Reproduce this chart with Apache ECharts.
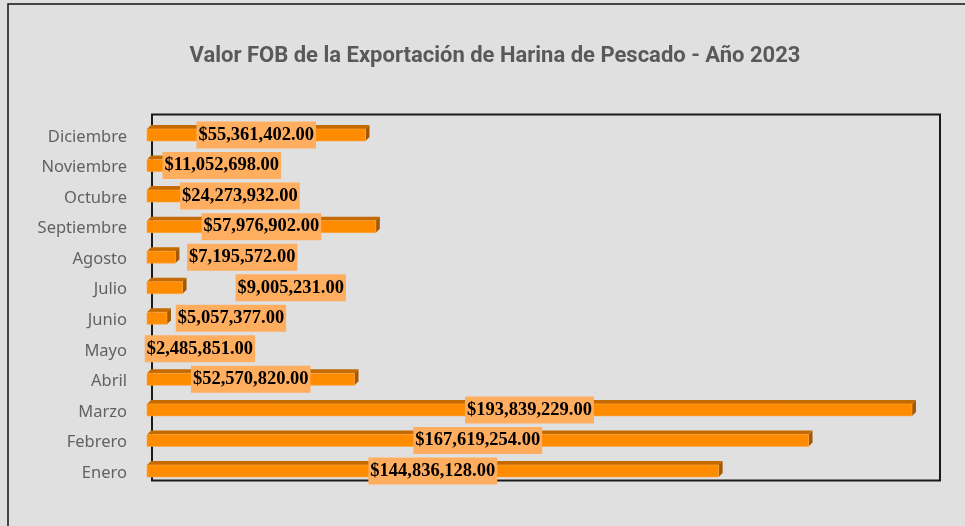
<!DOCTYPE html>
<html>
<head>
<meta charset="utf-8">
<script src="https://cdn.jsdelivr.net/npm/echarts@6/dist/echarts.min.js"></script>
<style>
html,body{margin:0;padding:0;background:#e0e0e0;}
#chart{width:965px;height:526px;}
</style>
</head>
<body>
<div id="chart"></div>
<script>
// ---- data ----
const months = ['Enero','Febrero','Marzo','Abril','Mayo','Junio','Julio','Agosto','Septiembre','Octubre','Noviembre','Diciembre'];
const fobValues = [144836128, 167619254, 193839229, 52570820, 2485851, 5057377, 9005231, 7195572, 57976902, 24273932, 11052698, 55361402];
const titleText = 'Valor FOB de la Exportación de Harina de Pescado - Año 2023';

// ---- layout (label horizontal shifts in px, as placed in the original) ----
const labelShift = [0, 0, 0, 0, 48, 74, 126, 81, 0, 45, 53, 0];

function fmtMoney(v){
  const s = Math.round(v).toString().replace(/\B(?=(\d{3})+(?!\d))/g, ',');
  return '$' + s + '.00';
}

const chart = echarts.init(document.getElementById('chart'), null, {renderer:'canvas'});
const D = 4; // 3D depth

chart.setOption({
  backgroundColor: '#e0e0e0',
  animation: false,
  title: {
    text: titleText,
    left: 490, top: 40, textAlign: 'center',
    textStyle: {fontFamily: 'Roboto, sans-serif', fontWeight: 'bold', fontSize: 22, color: '#595959'}
  },
  grid: {left: 147, right: 28.7, top: 117.75, bottom: 41.75, containLabel: false},
  xAxis: {
    type: 'value', min: 0, max: 200000000,
    axisLine: {show: false}, axisTick: {show: false}, axisLabel: {show: false}, splitLine: {show: false}
  },
  yAxis: {
    type: 'category', data: months,
    axisLine: {show: false}, axisTick: {show: false},
    axisLabel: {
      margin: 20,
      formatter: function(v){ return '{m|' + v + '}'; },
      rich: {m: {color: '#626262', fontSize: 16.5, fontFamily: '"Noto Sans", sans-serif', padding: [8, 0, 0, 0]}}
    }
  },
  graphic: [
    {type: 'rect', silent: true, z: 0, shape: {x: 8, y: 4, width: 970, height: 540}, style: {fill: 'none', stroke: '#111', lineWidth: 1.5}},
    {type: 'rect', silent: true, z: 0, shape: {x: 152, y: 114.5, width: 788, height: 366}, style: {fill: 'none', stroke: '#1a1a1a', lineWidth: 2}}
  ],
  series: [{
    type: 'custom',
    z: 5,
    encode: {x: 0, y: 1},
    data: fobValues.map((v, i) => [v, i]),
    renderItem: function(params, api){
      const v = api.value(0), idx = api.value(1);
      const p0 = api.coord([0, idx]);
      const p1 = api.coord([v, idx]);
      const x0 = p0[0], x1 = p1[0], c = p0[1];
      const di = params.dataIndex;
      return {
        type: 'group',
        children: [
          {type: 'polygon', shape: {points: [[x0, c-4],[x0+D, c-4-D],[x1+D, c-4-D],[x1, c-4]]}, style: {fill: '#c46a00'}},
          {type: 'polygon', shape: {points: [[x1, c-4],[x1+D, c-4-D],[x1+D, c+8-D],[x1, c+8]]}, style: {fill: '#a65800'}},
          {type: 'rect', shape: {x: x0, y: c-4, width: x1-x0, height: 12}, style: {fill: '#ff8c00', stroke: '#ffa640', lineWidth: 0.6}},
          {type: 'text', z2: 10, style: {
            text: fmtMoney(v), x: (x0 + x1) / 2 + labelShift[di], y: c + 2,
            align: 'center', verticalAlign: 'middle',
            font: 'bold 18.5px "Liberation Serif", "Times New Roman", serif',
            fill: '#000', backgroundColor: '#ffad5f', padding: [4, 2, 4, 2]
          }}
        ]
      };
    }
  }]
});
</script>
</body>
</html>
